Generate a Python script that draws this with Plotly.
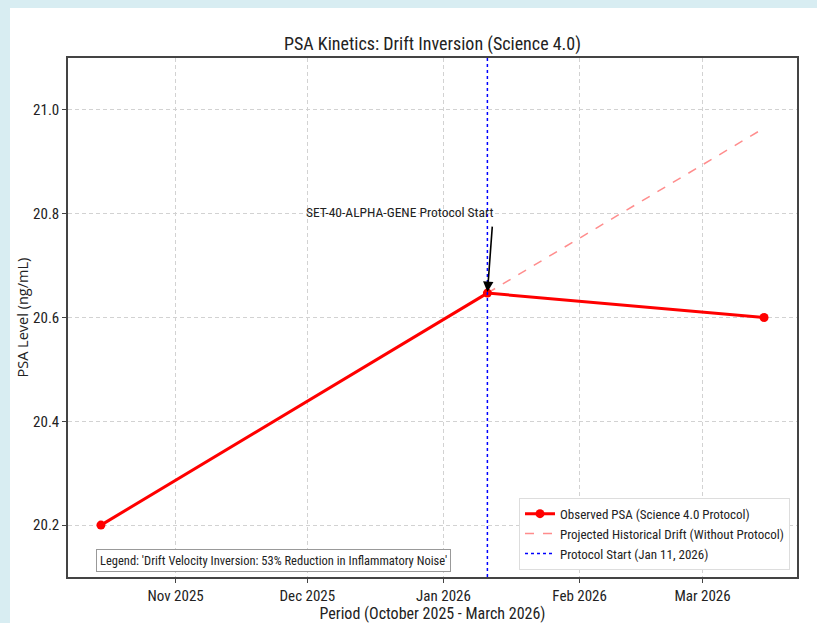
import plotly.graph_objects as go

# ---- data ----
obs_dates = ["2025-10-15", "2026-01-11", "2026-03-15"]
obs_vals = [20.2, 20.647, 20.6]
proj_dates = ["2026-01-11", "2026-03-15"]
proj_vals = [20.647, 20.965]
protocol_date = "2026-01-11"
y_ticks = [20.2, 20.4, 20.6, 20.8, 21.0]
x_ticks = ["2025-11-01", "2025-12-01", "2026-01-01", "2026-02-01", "2026-03-01"]

FONT = "Liberation Sans Narrow, Roboto Condensed, Roboto, sans-serif"
BG = "#d8edf2"
W, H = 817, 623
L, R, T, B = 68, 20, 58, 46
pw, ph = W - L - R, H - T - B

fig = go.Figure()
fig.add_trace(go.Scatter(
    x=obs_dates, y=obs_vals, mode="lines+markers",
    name="Observed PSA (Science 4.0 Protocol)",
    line=dict(color="#ff0000", width=3), marker=dict(size=9, color="#ff0000")))
fig.add_trace(go.Scatter(
    x=proj_dates, y=proj_vals, mode="lines",
    name="Projected Historical Drift (Without Protocol)",
    line=dict(color="rgba(255,0,0,0.45)", width=1.5, dash="dash")))
fig.add_trace(go.Scatter(
    x=[protocol_date, protocol_date], y=[20.1, 21.1], mode="lines",
    name="Protocol Start (Jan 11, 2026)",
    line=dict(color="#0000ff", width=1.5, dash="dot")))

# white card
fig.add_shape(type="rect", xref="paper", yref="paper",
              x0=(10 - L) / pw, x1=1.1, y0=-0.2, y1=(H - B - 8) / ph,
              fillcolor="white", line=dict(width=0), layer="below")

fig.add_annotation(x=protocol_date, y=obs_vals[1], ax=5, ay=-68, text="",
                   showarrow=True, arrowhead=2, arrowsize=1.3, arrowwidth=1.6,
                   arrowcolor="black", standoff=1)
fig.add_annotation(x=protocol_date, y=20.803, text="SET-40-ALPHA-GENE Protocol Start",
                   showarrow=False, xanchor="right", xshift=9, yanchor="middle",
                   font=dict(size=13.5, color="#222", family=FONT))
fig.add_annotation(xref="paper", yref="paper", x=(96 - L) / pw, y=0.01,
                   xanchor="left", yanchor="bottom", showarrow=False,
                   text="Legend: 'Drift Velocity Inversion: 53% Reduction in Inflammatory Noise'",
                   font=dict(size=12.5, color="#222", family=FONT),
                   bgcolor="white", bordercolor="#999", borderwidth=1, borderpad=3)
# y-axis title
fig.add_annotation(xref="paper", yref="paper", x=(22 - L) / pw, y=0.5,
                   xanchor="center", yanchor="middle", showarrow=False, textangle=-90,
                   text="PSA Level (ng/mL)",
                   font=dict(size=14.5, color="#222", family="Open Sans, sans-serif"))

grid = dict(showgrid=True, gridcolor="#d2d2d2", griddash="4px,3px", gridwidth=1)
fig.update_layout(
    width=W, height=H, margin=dict(l=L, r=R, t=T, b=B, autoexpand=False),
    paper_bgcolor=BG, plot_bgcolor="white",
    font=dict(family=FONT, size=15, color="#222"),
    title=dict(text="PSA Kinetics: Drift Inversion (Science 4.0)", x=(L + pw / 2) / W,
               xanchor="center", y=1 - 44 / H, yanchor="middle",
               font=dict(size=18, color="#222", family=FONT)),
    xaxis=dict(range=["2025-10-07 12:00", "2026-03-22 12:00"], tickvals=x_ticks,
               tickformat="%b %Y", ticks="outside", ticklen=4, tickcolor="#444",
               showline=True, linecolor="#444", linewidth=1.5, mirror=True,
               automargin=False,
               title=dict(text="Period (October 2025 - March 2026)", standoff=4,
                          font=dict(size=16)),
               **grid),
    yaxis=dict(range=[20.1, 21.1], tickvals=y_ticks, tickformat=".1f",
               ticks="outside", ticklen=4, tickcolor="#444",
               showline=True, linecolor="#444", linewidth=1.5, mirror=True,
               automargin=False, zeroline=False, **grid),
    legend=dict(x=(790 - L) / pw, y=0.014, xanchor="right", yanchor="bottom",
                bgcolor="white", bordercolor="#ddd", borderwidth=1,
                font=dict(size=13, family=FONT), tracegroupgap=0),
    showlegend=True,
)

fig.write_html("out.html", config={"displayModeBar": False},
               post_script="document.body.style.margin='0';document.body.style.background='%s';" % BG)
